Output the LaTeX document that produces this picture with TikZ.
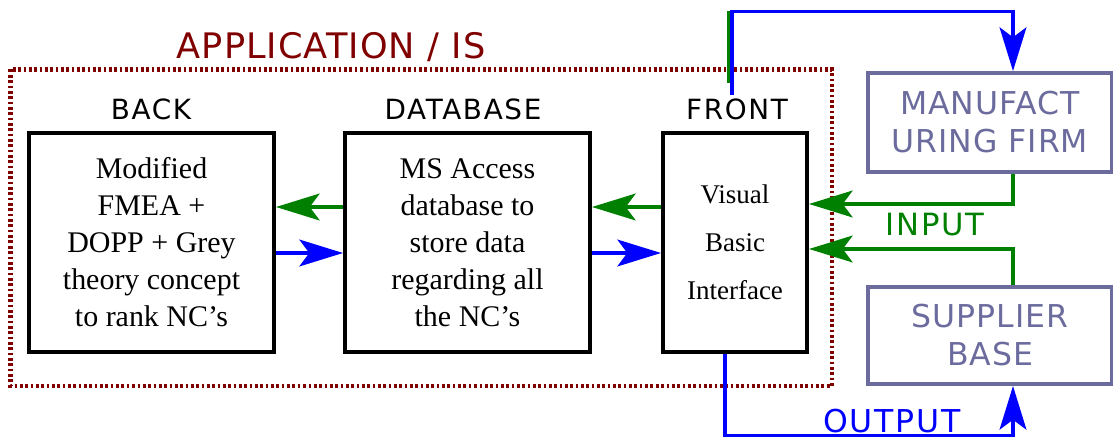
\documentclass[tikz,border=0pt]{standalone}
\usepackage{fontspec}
\setmainfont{Liberation Serif}
\setsansfont{DejaVu Sans}
\newfontfamily\lblfont[LetterSpace=6]{DejaVu Sans}
\newfontfamily\extfont[LetterSpace=3]{DejaVu Sans}
\usetikzlibrary{arrows.meta}
\definecolor{appred}{HTML}{800000}
\definecolor{ggreen}{HTML}{008000}
\definecolor{bblue}{HTML}{0000FF}
\definecolor{slate}{HTML}{6B6B9E}
\tikzset{
  box/.style={draw=black, line width=2.8pt, minimum height=219*0.025cm, align=center, inner sep=0pt,
    font=\fontsize{21.3pt}{26.3pt}\selectfont},
  extbox/.style={draw=slate, line width=2.8pt, minimum width=244*0.025cm, align=center, inner sep=0pt,
    text=slate, font=\extfont\fontsize{22.4pt}{27pt}\selectfont},
  lbl/.style={font=\lblfont\fontsize{19.8pt}{24pt}\selectfont, inner sep=0pt, anchor=base},
  tip/.style={-{Stealth[length=31pt,width=19pt,inset=7pt]}},
  garr/.style={tip, draw=ggreen, line width=2.8pt},
  barr/.style={tip, draw=bblue, line width=2.8pt},
}
\begin{document}
\begin{tikzpicture}[x=0.025cm, y=-0.025cm]
\useasboundingbox (0,0) rectangle (1113,439);
% application frame
\draw[appred, line width=3.4pt, dash pattern=on 1.9pt off 1.9pt] (10.5,69.5) rectangle (832,386);
\node[font=\extfont\fontsize{25pt}{30pt}\selectfont, text=appred, inner sep=0pt, anchor=base] (apptitle) at (331,59) {APPLICATION / IS};
% labels
\node[lbl] (lback) at (151,120) {BACK};
\node[lbl] (ldb) at (463,120) {DATABASE};
\node[lbl] (lfront) at (737,120) {FRONT};
% boxes
\node[box, minimum width=245*0.025cm] (back) at (151.5,242.5) {Modified\\FMEA +\\DOPP + Grey\\theory concept\\to rank NC’s};
\node[box, minimum width=245*0.025cm] (db) at (467.5,242.5) {MS Access\\database to\\store data\\regarding all\\the NC’s};
\node[box, minimum width=144*0.025cm, font=\fontsize{19.2pt}{34pt}\selectfont] (front) at (735,242.5) {Visual\\Basic\\Interface};
\node[extbox, minimum height=99*0.025cm] (manuf) at (990,122.5) {MANUFACT\\URING FIRM};
\node[extbox, minimum height=97*0.025cm] (supp) at (990,335.5) {SUPPLIER\\BASE};
% helper coordinates
\coordinate (gy) at (0,207);
\coordinate (by) at (0,253);
\coordinate (gin1) at (0,204);
\coordinate (gin2) at (0,249);
\coordinate (topy) at (0,11.5);
\coordinate (boty) at (0,435.5);
\coordinate (fx) at (1013,0);
% internal arrows
\draw[garr] (db.west |- gy) -- (back.east |- gy);
\draw[garr] (front.west |- gy) -- (db.east |- gy);
\draw[barr] (back.east |- by) -- (db.west |- by);
\draw[barr] (db.east |- by) -- (front.west |- by);
% input arrows
\draw[garr] (manuf.south -| fx) |- (front.east |- gin1);
\draw[garr] (supp.north -| fx) |- (front.east |- gin2);
\node[font=\lblfont\fontsize{21.8pt}{26pt}\selectfont, text=ggreen, inner sep=0pt, anchor=base] (inlbl) at (935,236) {INPUT};
% output arrows
\coordinate (bstart) at (732,95);
\draw[ggreen, line width=2.8pt] (728.5,83) -- (728.5,11.5);
\draw[barr] (bstart) |- (fx |- topy) -- (manuf.north -| fx);
\draw[barr] (front.south -| 725,0) |- (fx |- boty) -- (supp.south -| fx);
\node[font=\lblfont\fontsize{22.4pt}{26pt}\selectfont, text=bblue, inner sep=0pt, anchor=base] (outlbl) at (892,432) {OUTPUT};
\end{tikzpicture}
\end{document}
